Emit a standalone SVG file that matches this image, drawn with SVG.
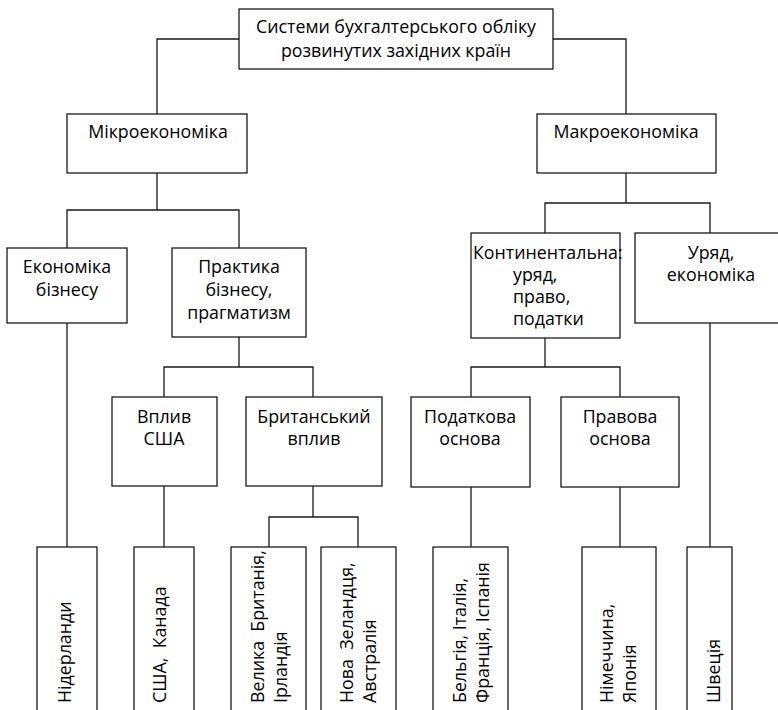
<svg xmlns="http://www.w3.org/2000/svg" width="778" height="710" viewBox="0 0 778 710">
<style>
rect{fill:#fff;stroke:#1a1a1a;stroke-width:1.3}
.c path{fill:none;stroke:#1a1a1a;stroke-width:1.3}
text{font-family:"Open Sans","Noto Sans",sans-serif;font-size:17.8px;fill:#000}
.m{text-anchor:middle}
</style>
<rect x="0" y="0" width="778" height="710" style="stroke:none"/>
<g class="c">
<path d="M239,39H157V114"/>
<path d="M553,39H626V114"/>
<path d="M157,173V210M67,248V210H239V248"/>
<path d="M239,337V367M164,397V367H313V397"/>
<path d="M67,323V547"/>
<path d="M164,486V547"/>
<path d="M313,486V517M269,547V517H358V547"/>
<path d="M626,173V203M545,233V203H710V233"/>
<path d="M545,338V367M471,397V367H620V397"/>
<path d="M471,487V547"/>
<path d="M620,487V547"/>
<path d="M710,323V547"/>
</g>
<g id="root"><rect x="239" y="9" width="314" height="60"/><text class="m"><tspan x="396" y="32.5">Системи бухгалтерського обліку</tspan><tspan x="396" y="57">розвинутих західних країн</tspan></text></g>
<g id="micro"><rect x="67" y="114" width="180" height="59"/><text class="m" x="158" y="138">Мікроекономіка</text></g>
<g id="macro"><rect x="537" y="114" width="179" height="59"/><text class="m" x="626" y="138">Макроекономіка</text></g>
<g id="ekon"><rect x="7" y="248" width="120" height="75"/><text class="m"><tspan x="67" y="273">Економіка</tspan><tspan x="67" y="296">бізнесу</tspan></text></g>
<g id="prakt"><rect x="172" y="248" width="134" height="89"/><text class="m"><tspan x="239" y="273">Практика</tspan><tspan x="239" y="296">бізнесу,</tspan><tspan x="239" y="319">прагматизм</tspan></text></g>
<g id="kont"><rect x="471" y="233" width="149" height="105"/><text><tspan x="473" y="259">Континентальна:</tspan><tspan x="513" y="281">уряд,</tspan><tspan x="513" y="303">право,</tspan><tspan x="513" y="325">податки</tspan></text></g>
<g id="uryad"><rect x="635" y="233" width="155" height="90"/><text class="m"><tspan x="711" y="259">Уряд,</tspan><tspan x="711" y="281">економіка</tspan></text></g>
<g id="usa"><rect x="112" y="397" width="105" height="89"/><text class="m"><tspan x="164" y="423">Вплив</tspan><tspan x="164" y="445">США</tspan></text></g>
<g id="brit"><rect x="246" y="397" width="136" height="89"/><text class="m"><tspan x="314" y="423">Британський</tspan><tspan x="314" y="445">вплив</tspan></text></g>
<g id="podat"><rect x="411" y="397" width="119" height="90"/><text class="m"><tspan x="470" y="423">Податкова</tspan><tspan x="470" y="445">основа</tspan></text></g>
<g id="prav"><rect x="561" y="397" width="118" height="90"/><text class="m"><tspan x="620" y="423">Правова</tspan><tspan x="620" y="445">основа</tspan></text></g>
<g id="nider"><rect x="37" y="547" width="60" height="175"/><text transform="translate(71,703) rotate(-90)">Нідерланди</text></g>
<g id="usaca"><rect x="134" y="547" width="60" height="175"/><text transform="translate(166,703) rotate(-90)" xml:space="preserve">США,  Канада</text></g>
<g id="gb"><rect x="231" y="547" width="75" height="175"/><text transform="translate(264,703) rotate(-90)" xml:space="preserve"><tspan x="0" y="0">Велика  Британія,</tspan><tspan x="0" y="23">Ірландія</tspan></text></g>
<g id="nz"><rect x="321" y="547" width="75" height="175"/><text transform="translate(353,703) rotate(-90)" xml:space="preserve"><tspan x="0" y="0">Нова  Зеландця,</tspan><tspan x="0" y="23">Австралія</tspan></text></g>
<g id="belg"><rect x="433" y="547" width="75" height="175"/><text transform="translate(466,703) rotate(-90)"><tspan x="0" y="0">Бельгія, Італія,</tspan><tspan x="0" y="23">Франція, Іспанія</tspan></text></g>
<g id="nim"><rect x="582" y="547" width="74" height="175"/><text transform="translate(613,703) rotate(-90)"><tspan x="0" y="0">Німеччина,</tspan><tspan x="0" y="23">Японія</tspan></text></g>
<g id="shv"><rect x="687" y="547" width="45" height="175"/><text transform="translate(720,703) rotate(-90)">Швеція</text></g>
</svg>
